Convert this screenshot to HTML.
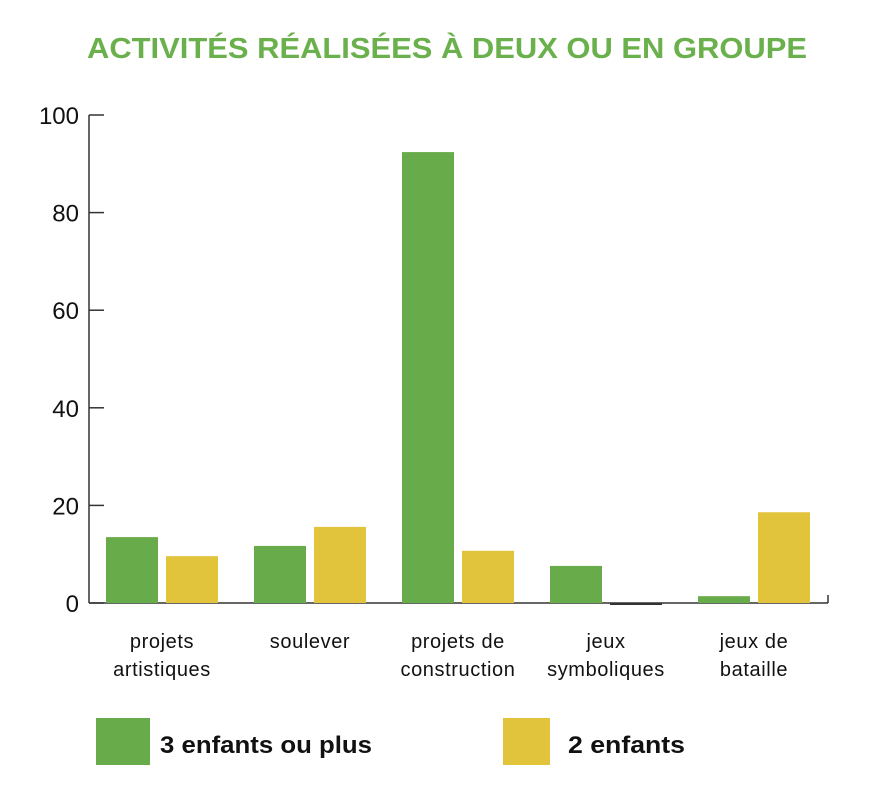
<!DOCTYPE html>
<html><head><meta charset="utf-8"><style>
body{margin:0;background:#fff;width:888px;height:786px;overflow:hidden;font-family:"Liberation Sans",sans-serif}
</style></head><body>
<svg width="888" height="786">
<text x="447" y="58" text-anchor="middle" font-size="29" font-weight="bold" fill="#6ab04c" textLength="720" lengthAdjust="spacingAndGlyphs">ACTIVITÉS RÉALISÉES À DEUX OU EN GROUPE</text>
<g id="axes"></g>
<g id="bars"></g>
<g id="labels"></g>
<rect x="96" y="718" width="54" height="47" fill="#68ab4a"/>
<text x="160" y="753" font-size="24" font-weight="bold" fill="#111" textLength="212" lengthAdjust="spacingAndGlyphs">3 enfants ou plus</text>
<rect x="503" y="718" width="47" height="47" fill="#e2c43c"/>
<text x="568" y="753" font-size="24" font-weight="bold" fill="#111" textLength="117" lengthAdjust="spacingAndGlyphs">2 enfants</text>
</svg>
<script>
const categories=[["projets","artistiques"],["soulever"],["projets de","construction"],["jeux","symboliques"],["jeux de","bataille"]];
const series3=[13.5,11.7,92.4,7.6,1.4];
const series2=[9.6,15.6,10.7,-0.3,18.6];
const ticks=[0,20,40,60,80,100];
const NS="http://www.w3.org/2000/svg";
const x0=89,x1=828,y0=603,yTop=115;
function y(v){return y0-(v/100)*(y0-yTop);}
function gx(i){return 106+i*148;}
function mk(tag,attrs,parent){const e=document.createElementNS(NS,tag);for(const k in attrs)e.setAttribute(k,attrs[k]);parent.appendChild(e);return e;}
const axes=document.getElementById('axes'),bars=document.getElementById('bars'),labels=document.getElementById('labels');
let l=mk('line',{x1:x0,y1:yTop,x2:x0,y2:y0,stroke:'#333','stroke-width':1.5},axes);


l=mk('line',{x1:x0,y1:y0,x2:x1,y2:y0,stroke:'#333','stroke-width':1.5},axes);


l=mk('line',{x1:x1,y1:y0,x2:x1,y2:y0-8,stroke:'#333','stroke-width':1.5},axes);


ticks.forEach(t=>{
 const tk=mk('line',{x1:x0,y1:y(t),x2:x0+15,y2:y(t),stroke:'#333','stroke-width':1.5},axes);
 
 
 const tx=mk('text',{x:x0-10,y:y(t)+9,'text-anchor':'end','font-size':24,fill:'#111'},axes);
 tx.textContent=t;
 
 
});
categories.forEach((c,i)=>{
 const v3=series3[i],v2=series2[i];
 const b1=mk('rect',{x:gx(i),y:Math.min(y(v3),y0),width:52,height:Math.abs(y(v3)-y0),fill:'#68ab4a'},bars);
 
 
 const b2=mk('rect',{x:gx(i)+60,y:Math.min(y(v2),y0),width:52,height:Math.max(Math.abs(y(v2)-y0),v2<0?2:0),fill:v2<0?'#333':'#e2c43c'},bars);
 
 
 c.forEach((line,j)=>{
  const t=mk('text',{x:gx(i)+56,y:648+j*28,'text-anchor':'middle','font-size':20,'letter-spacing':'0.6',fill:'#111'},labels);
  t.textContent=line;
  
  
 });
});
</script>
</body></html>
